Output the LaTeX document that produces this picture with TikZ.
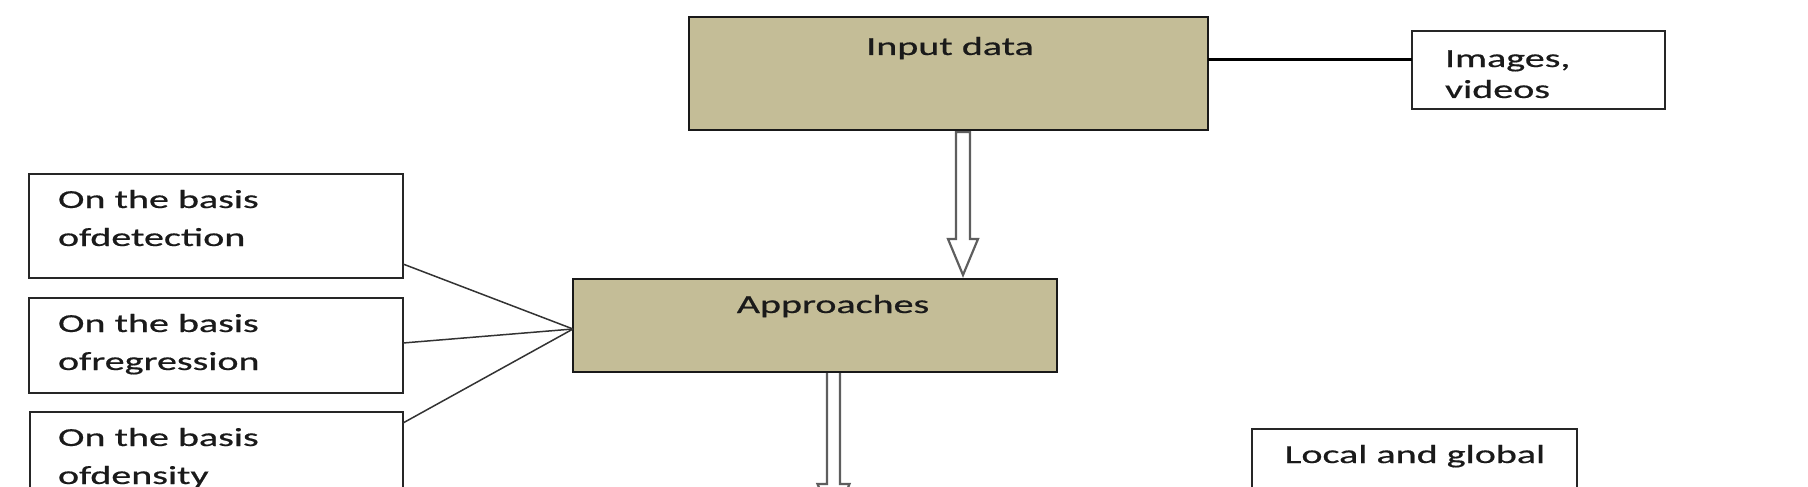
\documentclass[tikz,border=0pt]{standalone}
\usepackage{fontspec}
\setmainfont[FakeBold=0.5]{Carlito}
\usepackage{graphicx}
\usetikzlibrary{calc}
\definecolor{tanfill}{HTML}{C4BD97}
\definecolor{txtc}{HTML}{1A1A1A}
\definecolor{arrgray}{HTML}{5E5E5E}
\newcommand{\wide}[1]{\scalebox{1.54}[1]{#1}}
\tikzset{
 tanbox/.style={draw=black!90, line width=2pt, fill=tanfill, inner sep=0pt, outer sep=0pt},
 whitebox/.style={draw=black!85, line width=1.8pt, fill=white, inner sep=0pt, outer sep=0pt},
 lbl/.style={inner sep=0pt, outer sep=0pt, text=txtc, font=\fontsize{26}{30}\selectfont},
 thinlink/.style={draw=black!80, line width=1.5pt},
 thicklink/.style={draw=black, line width=3pt},
 blockarrow/.style={draw=arrgray, line width=2.2pt, fill=white, line join=miter},
}
\begin{document}
\begin{tikzpicture}[x=1pt,y=-1pt]
\useasboundingbox (0,0) rectangle (1808,487);
\begin{scope}
\clip (0,0) rectangle (1808,487);
% boxes (positions)
\coordinate (inpc) at (948.5,73.5);
\coordinate (appc) at (815,325.5);
% block arrows drawn first
\coordinate (a1t) at ($(inpc)+(14.5,57)$);
\coordinate (a1b) at ($(appc)+(148,-46.5)$);
\draw[blockarrow] ($(a1t)+(-7,1.5)$) -- ($(a1b)+(-7,-40)$) -- ($(a1b)+(-15,-40)$) -- ($(a1b)+(0,-4)$) -- ($(a1b)+(15,-40)$) -- ($(a1b)+(7,-40)$) -- ($(a1t)+(7,1.5)$) -- cycle;
\coordinate (a2t) at ($(appc)+(18.5,46.5)$);
\coordinate (a2e) at ($(a2t)+(0,150)$);
\draw[blockarrow] ($(a2t)+(-6.5,0)$) -- ($(a2t)+(-6.5,112)$) -- ($(a2t)+(-16,112)$) -- (a2e) -- ($(a2t)+(16,112)$) -- ($(a2t)+(6.5,112)$) -- ($(a2t)+(6.5,0)$);

\node[tanbox, minimum width=519pt, minimum height=113pt] (inp) at (inpc) {};
\node[whitebox, minimum width=253pt, minimum height=78pt] (img) at (1538.5,70) {};
\node[tanbox, minimum width=484pt, minimum height=93pt] (app) at (appc) {};
\node[whitebox, minimum width=374pt, minimum height=104pt] (b1) at (216,226) {};
\node[whitebox, minimum width=374pt, minimum height=95pt] (b2) at (216,345.5) {};
\node[whitebox, minimum width=373pt, minimum height=118pt] (b3) at (216.5,471) {};
\node[whitebox, minimum width=325pt, minimum height=101pt] (loc) at (1414.5,479.5) {};

% texts
\node[lbl, anchor=base] (tinp) at (950,55) {\wide{Input data}};
\node[lbl, anchor=base west] (timg1) at (1445,67) {\wide{Images,}};
\node[lbl, anchor=base west] (timg2) at (1445,98) {\wide{videos}};
\node[lbl, anchor=base] (tapp) at (833,313) {\wide{Approaches}};
\node[lbl, anchor=base west] (tb1a) at (58,208) {\wide{On the basis}};
\node[lbl, anchor=base west] (tb1b) at (58,246) {\wide{ofdetection}};
\node[lbl, anchor=base west] (tb2a) at (58,332) {\wide{On the basis}};
\node[lbl, anchor=base west] (tb2b) at (58,370) {\wide{ofregression}};
\node[lbl, anchor=base west] (tb3a) at (58,446) {\wide{On the basis}};
\node[lbl, anchor=base west] (tb3b) at (58,484) {\wide{ofdensity}};
\node[lbl, anchor=base] (tloc) at (1415,463) {\wide{Local and global}};

% connectors
\draw[thicklink] ([yshift=13.5pt]inp.east) -- ([yshift=13.5pt]inp.east -| img.west);
\coordinate (apx) at ([yshift=-3.5pt]app.west);
\draw[thinlink] ([yshift=14pt]b1.south east) -- (apx);
\draw[thinlink] ([yshift=2.5pt]b2.east) -- (apx);
\draw[thinlink] ([yshift=-11pt]b3.north east) -- (apx);
\end{scope}
\end{tikzpicture}
\end{document}
